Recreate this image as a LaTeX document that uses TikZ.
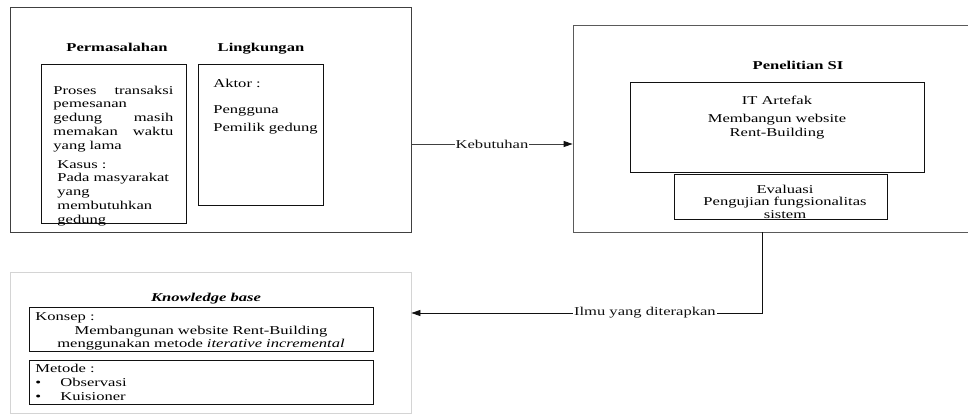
\documentclass[tikz,border=0pt]{standalone}
\usepackage{fontspec}
\setmainfont{Liberation Serif}[FakeStretch=1.38,
  ItalicFont={Liberation Serif Italic}, BoldItalicFont={Liberation Serif Bold Italic}]
\usepackage{tikz}
\usetikzlibrary{arrows.meta,positioning,calc}
\definecolor{FrameDark}{HTML}{404040}
\definecolor{FrameMid}{HTML}{5A5A5A}
\definecolor{FrameLight}{HTML}{D4D4D4}
\definecolor{InkBlack}{HTML}{111111}

\begin{document}
\begin{tikzpicture}[x=1pt, y=-1pt, line width=0.8pt,
  every node/.style={font=\fontsize{12}{13.8}\selectfont, inner sep=0pt},
  box/.style={draw=InkBlack, rectangle},
  heading/.style={font=\fontsize{12}{13.8}\selectfont\bfseries, anchor=base},
  linetag/.style={fill=white, text=InkBlack, inner sep=1pt}]
  \useasboundingbox (0,0) rectangle (968,415);

  % frames
  \node[box, draw=FrameDark, minimum width=401pt, minimum height=225pt] (problem) at (210.5,119.5) {};
  \node[box, minimum width=145pt, minimum height=159pt] (issue) at (113.5,143.5) {};
  \node[box, minimum width=125pt, minimum height=141pt] (env) at (260.5,134.5) {};
  \node[box, draw=FrameMid, minimum width=402pt, minimum height=207pt] (research) at (774,128.5) {};
  \node[box, minimum width=294pt, minimum height=90pt] (artefact) at (777,127) {};
  \node[box, minimum width=213pt, minimum height=45pt] (evaluation) at (780.5,196.5) {};
  \node[box, draw=FrameLight, minimum width=401pt, minimum height=141pt] (knowledge) at (210.5,342.5) {};
  \node[box, minimum width=344pt, minimum height=44pt] (concept) at (201,329) {};
  \node[box, minimum width=344pt, minimum height=44pt] (method) at (201,382) {};

  % headings
  \node[heading] (issueTitle) at (117,51) {Permasalahan};
  \node[heading] (envTitle) at (261,51) {Lingkungan};
  \node[heading] (researchTitle) at (798,69) {Penelitian SI};
  \node[heading, font=\fontsize{12}{13.8}\selectfont\bfseries\itshape] (knowledgeTitle) at (206,301) {Knowledge base};

  % left panel texts
  \node[anchor=base west, text width=120pt, align=left] (issueText) at (53,94)
  {Proses \hfill transaksi\\ pemesanan\\ gedung \hfill masih\\ memakan \hfill waktu\\ yang lama};
  \node[anchor=base west, text width=120pt, align=left] (caseText) at (57,168)
  {Kasus :\\ Pada masyarakat\\ yang\\ membutuhkan\\ gedung};
  \node[anchor=base west, align=left] (actorText) at (213,87) {Aktor :};
  \node[anchor=base west, text width=105pt, align=left] (actorList) at (213,113) {Pengguna\\[5pt] Pemilik gedung};

  % research texts
  \node[anchor=base, text width=250pt, align=center] (artefactText) at (777,104)
  {IT Artefak\\[5pt] Membangun website\\ Rent-Building};
  \node[anchor=base, text width=200pt, align=center, font=\fontsize{12}{12.5}\selectfont] (evalText) at (785,193)
  {Evaluasi\\ Pengujian fungsionalitas\\ sistem};

  % knowledge texts
  \node[anchor=base west] (conceptTag) at (35,320) {Konsep :};
  \node[anchor=base, text width=335pt, align=center] (conceptText) at (201,334)
  {Membangunan website Rent-Building\\ menggunakan metode \textit{iterative incremental}};
  \node[anchor=base west] (methodTag) at (35,372) {Metode :};
  \node[anchor=base west] (methodA) at (35,386) {\makebox[25pt][l]{\textbullet}Observasi};
  \node[anchor=base west] (methodB) at (35,400) {\makebox[25pt][l]{\textbullet}Kuisioner};

  % connectors
  \draw[FrameDark, -{Triangle[length=9pt,width=6pt,color=InkBlack]}] (problem.east |- 0,144) -- node[linetag] {Kebutuhan} (research.west |- 0,144);
  \draw[InkBlack, -{Triangle[length=9pt,width=6pt]}] (research.south -| 762,0) |- node[linetag, pos=0.667] {Ilmu yang diterapkan} (knowledge.east |- 0,313);
\end{tikzpicture}
\end{document}
